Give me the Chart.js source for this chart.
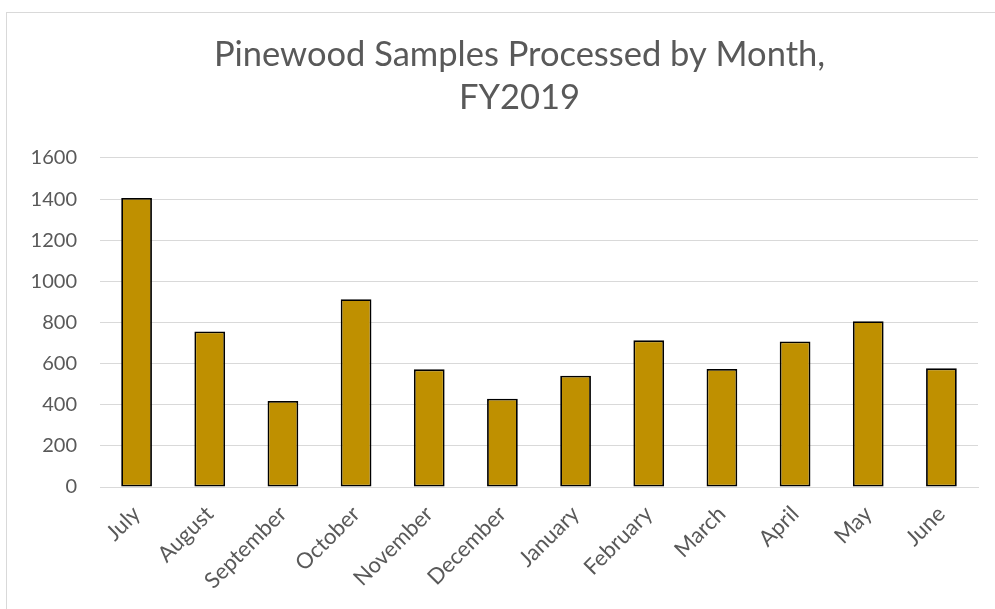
<!DOCTYPE html>
<html>
<head>
<meta charset="utf-8">
<script src="https://cdn.jsdelivr.net/npm/chart.js@4.4.0/dist/chart.umd.min.js"></script>
<style>
  html, body { margin: 0; padding: 0; background: #fff; overflow: hidden; }
  #frame {
    position: absolute; left: 6px; top: 12px;
    width: 1100px; height: 700px;
    border: 1px solid #D9D9D9;
  }
  #wrap {
    position: absolute; left: 0; top: 0;
    width: 1025px; height: 596px;
  }
</style>
</head>
<body>
<div id="frame">
  <div id="wrap"><canvas id="chart"></canvas></div>
</div>
<script>
// Chart data
const months = ['July', 'August', 'September', 'October', 'November', 'December',
  'January', 'February', 'March', 'April', 'May', 'June'];
const samples = [1405, 756, 418, 913, 572, 429, 541, 713, 574, 708, 806, 577];
const titleLines = ['Pinewood Samples Processed by Month,', 'FY2019'];

const textColor = '#595959';
const gridColor = '#D9D9D9';
const fontFamily = 'Lato, "Open Sans", sans-serif';

new Chart(document.getElementById('chart'), {
  type: 'bar',
  data: {
    labels: months,
    datasets: [{
      label: 'Samples',
      data: samples,
      backgroundColor: '#BF9000',
      borderColor: '#000000',
      borderWidth: 1.8,
      borderSkipped: false,
      categoryPercentage: 1,
      barPercentage: 0.42,
    }],
  },
  options: {
    responsive: true,
    maintainAspectRatio: false,
    animation: false,
    layout: { padding: 0 },
    plugins: {
      legend: { display: false },
      tooltip: { enabled: false },
      title: {
        display: true,
        text: titleLines,
        color: textColor,
        font: { family: fontFamily, size: 34.5, weight: 'normal', lineHeight: 1.26 },
        padding: { top: 20, bottom: 38 },
      },
    },
    scales: {
      x: {
        grid: { display: false, drawTicks: false },
        border: { display: true, color: gridColor, width: 1 },
        ticks: {
          color: textColor,
          font: { family: fontFamily, size: 22 },
          minRotation: 45,
          maxRotation: 45,
          padding: 14,
        },
        afterFit: (scale) => { scale.height = 122; },
      },
      y: {
        min: 0,
        max: 1600,
        grid: { color: gridColor, lineWidth: 1, drawTicks: false },
        border: { display: false },
        ticks: {
          stepSize: 200,
          color: textColor,
          font: { family: fontFamily, size: 20 },
          padding: 23,
          callback: (v) => String(v),
        },
        afterFit: (scale) => { scale.width = 93; },
      },
      // empty right-hand spacer so the title centres like the original frame
      spacer: {
        type: 'linear',
        position: 'right',
        grid: { display: false, drawTicks: false },
        border: { display: false },
        ticks: { display: false },
        afterFit: (scale) => { scale.width = 54; },
      },
    },
  },
});
</script>
</body>
</html>
